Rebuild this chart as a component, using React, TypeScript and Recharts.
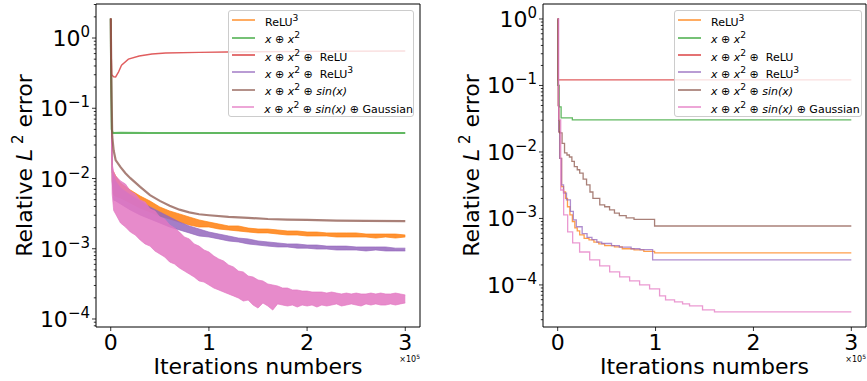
import React from "react";
import { ComposedChart, Line, Area, XAxis, YAxis, ReferenceArea, Legend, Label } from "recharts";

const FONT = "DejaVu Sans, Verdana, sans-serif";

const ORANGE = "#ff7f0e";
const GREEN = "#2ca02c";
const RED = "#d62728";
const PURPLE = "#9467bd";
const BROWN = "#8c564b";
const PINK = "#e377c2";

const xTicks = [0, 100000, 200000, 300000];
const xTickLabels = ["0", "1", "2", "3"];
const X_DOMAIN: [number, number] = [-15000, 315000];

const yMajorTicks = [1e-5, 1e-4, 1e-3, 1e-2, 1e-1, 1];
const yMajorLabels = ["−5", "−4", "−3", "−2", "−1", "0"];
const yMinorMult = [2, 3, 4, 5, 6, 7, 8, 9];

// ---- left panel: noisy curves, kept as the upper / lower edge of the noise band ----
// iterations in thousands
const bandK = [0, 0.5, 1.5, 3, 5, 10, 20, 30, 40, 50, 60, 70, 80, 90, 100, 110, 120, 130, 140, 150,
  160, 170, 180, 190, 200, 210, 220, 230, 240, 250, 260, 270, 280, 290, 300];

const orangeHi = [1.9, 0.35, 0.0132, 0.0124, 0.0109, 0.00863, 0.00686, 0.00563, 0.00478, 0.00393, 0.00345,
  0.00313, 0.00283, 0.00257, 0.0024, 0.00225, 0.00211, 0.00211, 0.00197, 0.00191, 0.00191, 0.00185, 0.00179,
  0.00179, 0.00173, 0.00173, 0.00168, 0.00168, 0.00168, 0.00168, 0.00162, 0.00162, 0.00162, 0.00162, 0.00157];
const orangeLo = [1.9, 0.25, 0.0095, 0.0058, 0.0056, 0.00528, 0.00448, 0.0038, 0.00334, 0.00292, 0.00265,
  0.0024, 0.00218, 0.00204, 0.00204, 0.00191, 0.00185, 0.00179, 0.00173, 0.00168, 0.00168, 0.00162, 0.00157,
  0.00157, 0.00152, 0.00152, 0.00152, 0.00147, 0.00147, 0.00147, 0.00147, 0.00142, 0.00147, 0.00142, 0.00147];

const purpleHi = [1.9, 0.35, 0.012, 0.0112, 0.0092, 0.00733, 0.00582, 0.00478, 0.00393, 0.00334, 0.00283,
  0.0024, 0.00211, 0.00191, 0.00173, 0.00162, 0.00152, 0.00142, 0.00138, 0.00129, 0.00125, 0.00121, 0.00117,
  0.00117, 0.00113, 0.00113, 0.00109, 0.00109, 0.00109, 0.00106, 0.00106, 0.00106, 0.00106, 0.00102, 0.00102];
const purpleLo = [1.9, 0.25, 0.0089, 0.0049, 0.0048, 0.00434, 0.00356, 0.00302, 0.00265, 0.00233, 0.00204,
  0.00185, 0.00168, 0.00152, 0.00147, 0.00138, 0.00129, 0.00125, 0.00117, 0.00113, 0.00109, 0.00106, 0.00106,
  0.00102, 0.00102, 0.00099, 0.00099, 0.00096, 0.00096, 0.00096, 0.00093, 0.00096, 0.00093, 0.00093, 0.00093];

const pinkK = [0, 0.3, 0.8, 1.5, 3,
  5, 10, 15, 20, 25, 30, 35, 40, 45, 50,
  55, 60, 65, 70, 75, 80, 85, 90, 95, 100,
  105, 110, 115, 120, 125, 130, 135, 140, 145, 150,
  155, 160, 165, 170, 175, 180, 185, 190, 195, 200,
  205, 210, 215, 220, 225, 230, 235, 240, 245, 250,
  255, 260, 265, 270, 275, 280, 285, 290, 295, 300];
const pinkHi = [1.9, 0.6, 0.06, 0.016, 0.0125,
  0.01085, 0.00921, 0.00835, 0.00664, 0.00602, 0.00494, 0.00463, 0.00368, 0.00345, 0.00283,
  0.00265, 0.00218, 0.00197, 0.00173, 0.00147, 0.00138, 0.00117, 0.00109, 0.00096, 0.0009,
  0.000788, 0.000715, 0.000669, 0.000587, 0.00055, 0.000482, 0.000467, 0.000409, 0.000396, 0.000359,
  0.000348, 0.000315, 0.000305, 0.000295, 0.000276, 0.000276, 0.000259, 0.000259, 0.00025, 0.00025,
  0.000242, 0.000242, 0.000242, 0.000234, 0.000242, 0.000234, 0.000227, 0.000234, 0.000227, 0.000234,
  0.000227, 0.000227, 0.000234, 0.000227, 0.000234, 0.000227, 0.000227, 0.000234, 0.000227, 0.00022];
const pinkLo = [1.9, 0.4, 0.04, 0.006, 0.0035,
  0.003125, 0.002325, 0.00204, 0.00173, 0.001569, 0.001332, 0.00117, 0.00109, 0.000929, 0.000842,
  0.000763, 0.000648, 0.000606, 0.000532, 0.000482, 0.000437, 0.000396, 0.000348, 0.000336, 0.000305,
  0.000276, 0.000259, 0.000242, 0.000227, 0.000213, 0.000199, 0.00018, 0.000186, 0.000158, 0.000143,
  0.000169, 0.000153, 0.000134, 0.000164, 0.000158, 0.000153, 0.000158, 0.000148, 0.000158, 0.000153,
  0.000158, 0.000148, 0.000158, 0.000153, 0.000158, 0.000164, 0.000153, 0.000158, 0.000164, 0.000158,
  0.000153, 0.000164, 0.000158, 0.000164, 0.000158, 0.000158, 0.000164, 0.000158, 0.000164, 0.000169];

const brownK = [0, 0.6, 1.5, 3, 5, 10, 15, 20, 30, 40, 50, 60, 70, 80, 90, 100, 120, 140, 160, 180, 200, 230, 260, 300];
const leftBrown = [1.9, 0.3, 0.04, 0.025, 0.0183, 0.0145, 0.0119, 0.0101, 0.0076, 0.0058, 0.0048, 0.0041, 0.0036,
  0.0033, 0.0031, 0.003, 0.00285, 0.00275, 0.00265, 0.0026, 0.00257, 0.00252, 0.0025, 0.00248];

const greenK = [0, 0.4, 1, 2, 10, 40, 80, 120, 160, 200, 240, 280, 300];
const leftGreen = [1.9, 0.3, 0.05, 0.0445, 0.0448, 0.0443, 0.0446, 0.0444, 0.0446, 0.0443, 0.0445, 0.0444, 0.0445];

const redK = [0, 0.5, 1, 3, 5, 8, 11, 18, 29, 42, 56, 90, 118, 200, 300];
const leftRed = [1.9, 0.6, 0.3, 0.28, 0.279, 0.33, 0.41, 0.5, 0.554, 0.592, 0.611, 0.625, 0.632, 0.645, 0.655];

// ---- right panel: best-so-far step curves ----
const redRK = [0, 0.5, 300];
const rightRed = [1.0, 0.121, 0.121];

const greenRK = [0, 0.5, 1.5, 3.5, 15, 300];
const rightGreen = [1.0, 0.1, 0.0475, 0.0325, 0.0303, 0.0303];

const brownRK = [0, 0.4, 1, 2, 4.5, 7, 9.5, 12, 14.5, 17, 20, 22.5, 26, 29.5, 33, 36, 43, 48, 53, 58, 63, 70, 78, 99, 300];
const rightBrown = [1.0, 0.1, 0.03, 0.0193, 0.0135, 0.0097, 0.009, 0.0084, 0.0072, 0.006, 0.0054, 0.0048, 0.0039,
  0.0032, 0.0025, 0.002, 0.0016, 0.0015, 0.00135, 0.0012, 0.0011, 0.00102, 0.00097, 0.00077, 0.00077];

const orangeRK = [0, 0.5, 1, 2, 4, 6, 8, 10, 12.5, 15, 17.5, 20, 22.5, 27, 32, 37, 42, 48, 58, 66, 78, 88, 99, 300];
const rightOrange = [1.0, 0.05, 0.02, 0.008, 0.003, 0.0025, 0.002, 0.0015, 0.00113, 0.0009, 0.00072, 0.00065,
  0.000565, 0.0005, 0.000475, 0.00044, 0.000414, 0.00039, 0.000373, 0.00035, 0.000336, 0.00032, 0.000303, 0.000303];

const purpleRK = [0, 0.5, 1, 2, 4, 6, 9, 13, 16, 19, 25, 30, 35, 40, 45, 55, 63, 75, 84, 97, 300];
const rightPurple = [1.0, 0.05, 0.02, 0.008, 0.0032, 0.0024, 0.0019, 0.00128, 0.00095, 0.00075, 0.00059, 0.00052,
  0.00048, 0.00044, 0.00042, 0.00039, 0.00037, 0.00035, 0.00034, 0.000238, 0.000238];

const pinkRK = [0, 1, 3.1, 6.1, 10.2, 15.3, 22.4, 32.7, 42.9, 53.1, 63.3, 73.5, 83.7, 93.9, 104.1, 110.2, 119.4,
  127.6, 134.7, 148, 160.2, 300];
const rightPink = [1.0, 0.0303, 0.00268, 0.00113, 0.000627, 0.000428, 0.000313, 0.000238, 0.000193, 0.000157,
  0.000132, 0.000115, 0.0001, 0.0000871, 0.0000684, 0.0000595, 0.0000555, 0.0000518, 0.0000483, 0.0000421,
  0.0000393, 0.0000393];

type Pt = { x: number; y?: number; band?: [number, number] };
type Series = { color: string; data: Pt[]; band?: boolean; width?: number };

const line = (ks: number[], vs: number[]): Pt[] => ks.map((k, i) => ({ x: k * 1000, y: vs[i] }));
const band = (ks: number[], lo: number[], hi: number[]): Pt[] =>
  ks.map((k, i) => ({ x: k * 1000, band: [lo[i], hi[i]] }));

const seriesColors = [ORANGE, GREEN, RED, PURPLE, BROWN, PINK];

const leftSeries: Series[] = [
  { color: ORANGE, data: band(bandK, orangeLo, orangeHi), band: true },
  { color: GREEN, data: line(greenK, leftGreen), width: 2 },
  { color: RED, data: line(redK, leftRed), width: 1.4 },
  { color: PURPLE, data: band(bandK, purpleLo, purpleHi), band: true },
  { color: BROWN, data: line(brownK, leftBrown), width: 2.2 },
  { color: PINK, data: band(pinkK, pinkLo, pinkHi), band: true },
];
const rightSeries: Series[] = [
  { color: ORANGE, data: line(orangeRK, rightOrange) },
  { color: GREEN, data: line(greenRK, rightGreen) },
  { color: RED, data: line(redRK, rightRed) },
  { color: PURPLE, data: line(purpleRK, rightPurple) },
  { color: BROWN, data: line(brownRK, rightBrown) },
  { color: PINK, data: line(pinkRK, rightPink) },
];

const X = <i>x</i>;
const legendLabels: React.ReactNode[] = [
  <>ReLU<sup>3</sup></>,
  <>{X} ⊕ {X}<sup>2</sup></>,
  <>{X} ⊕ {X}<sup>2</sup> ⊕  ReLU</>,
  <>{X} ⊕ {X}<sup>2</sup> ⊕  ReLU<sup>3</sup></>,
  <>{X} ⊕ {X}<sup>2</sup> ⊕ <i>sin(x)</i></>,
  <>{X} ⊕ {X}<sup>2</sup> ⊕ <i>sin(x)</i> ⊕ Gaussian</>,
];

function buildYTicks([lo, hi]: [number, number]) {
  const out: number[] = [];
  yMajorTicks.forEach((d) => {
    if (d >= lo && d <= hi) out.push(d);
    yMinorMult.forEach((m) => {
      const v = m * d;
      if (v >= lo && v <= hi) out.push(v);
    });
  });
  return out.sort((a, b) => a - b);
}

function YTick(props: any) {
  const { x, y, payload } = props;
  const idx = yMajorTicks.findIndex((t) => Math.abs(t - payload.value) / t < 1e-6);
  const major = idx >= 0;
  return (
    <g>
      <line x1={x - (major ? 4 : 2.2)} x2={x} y1={y} y2={y} stroke="#000" strokeWidth={0.8} />
      {major && (
        <text x={x - 6} y={y + 8} textAnchor="end" fontSize={22} fontFamily={FONT} fill="#000">
          10
          <tspan dy={-9} fontSize={15}>{yMajorLabels[idx]}</tspan>
        </text>
      )}
    </g>
  );
}

function XTick(props: any) {
  const { x, y, payload } = props;
  const i = xTicks.indexOf(payload.value);
  return (
    <g>
      <line x1={x} x2={x} y1={y} y2={y + 4} stroke="#000" strokeWidth={0.8} />
      <text x={x} y={y + 23} textAnchor="middle" fontSize={22} fontFamily={FONT} fill="#000">
        {xTickLabels[i]}
      </text>
    </g>
  );
}

function XTitle(props: any) {
  const vb = props.viewBox;
  return (
    <g>
      <text x={vb.x + vb.width / 2} y={vb.y + 47} textAnchor="middle" fontSize={22} fontFamily={FONT} fill="#000">
        Iterations numbers
      </text>
      <text x={vb.x + vb.width} y={vb.y + 35} textAnchor="end" fontSize={8} fontFamily={FONT} fill="#000">
        ×10
        <tspan dy={-3} fontSize={6}>5</tspan>
      </text>
    </g>
  );
}

function YTitle(props: any) {
  const vb = props.viewBox;
  const cx = vb.x + vb.width - 64;
  const cy = vb.y + vb.height / 2;
  return (
    <text x={cx} y={cy} transform={`rotate(-90, ${cx}, ${cy})`} textAnchor="middle" fontSize={22} fontFamily={FONT} fill="#000">
      Relative <tspan fontStyle="italic">L</tspan>
      <tspan dy={-9} fontSize={15}> 2</tspan>
      <tspan dy={9}> error</tspan>
    </text>
  );
}

function LegendBox({ width }: { width: number }) {
  return (
    <div
      style={{
        boxSizing: "border-box",
        width,
        height: 107,
        border: "1px solid #cccccc",
        borderRadius: 3,
        background: "rgba(255,255,255,0.8)",
        fontFamily: FONT,
        fontSize: 11,
        color: "#000",
        paddingTop: 0.5,
      }}
    >
      {seriesColors.map((c, i) => (
        <div key={i} style={{ display: "flex", alignItems: "center", height: 17.4 }}>
          <span
            style={{
              display: "inline-block",
              width: 23,
              height: 2,
              background: c,
              opacity: 0.65,
              marginLeft: 3,
              marginRight: 10,
            }}
          />
          <span style={{ whiteSpace: "pre", lineHeight: 1 }}>{legendLabels[i]}</span>
        </div>
      ))}
    </div>
  );
}

type PanelProps = {
  left: number;
  width: number;
  yAxisWidth: number;
  marginRight: number;
  yDomain: [number, number];
  series: Series[];
  lineType: "linear" | "stepAfter";
  strokeWidth: number;
  legendLeft: number;
  legendWidth: number;
};

function Panel(p: PanelProps) {
  const yTicks = buildYTicks(p.yDomain);
  return (
    <div style={{ position: "absolute", left: p.left, top: 0 }}>
      <ComposedChart width={p.width} height={381} margin={{ top: 4, right: p.marginRight, bottom: 0, left: 0 }}>
        <XAxis
          type="number"
          dataKey="x"
          domain={X_DOMAIN}
          ticks={xTicks}
          allowDataOverflow
          axisLine={false}
          tickLine={false}
          tickSize={0}
          tickMargin={0}
          interval={0}
          tick={<XTick />}
          height={54}
        >
          <Label content={XTitle} />
        </XAxis>
        <YAxis
          type="number"
          scale="log"
          domain={p.yDomain}
          ticks={yTicks}
          allowDataOverflow
          axisLine={false}
          tickLine={false}
          tickSize={0}
          tickMargin={0}
          interval={0}
          tick={<YTick />}
          width={p.yAxisWidth}
        >
          <Label content={YTitle} />
        </YAxis>
        {p.series.map((s, i) =>
          s.band ? (
            <Area
              key={i}
              data={s.data}
              dataKey="band"
              type="linear"
              stroke={s.color}
              strokeWidth={0.8}
              strokeOpacity={0.85}
              fill={s.color}
              fillOpacity={0.85}
              dot={false}
              activeDot={false}
              isAnimationActive={false}
            />
          ) : (
            <Line
              key={i}
              data={s.data}
              dataKey="y"
              type={p.lineType}
              stroke={s.color}
              strokeWidth={s.width ?? p.strokeWidth}
              strokeOpacity={0.75}
              dot={false}
              activeDot={false}
              isAnimationActive={false}
            />
          )
        )}
        <ReferenceArea
          x1={X_DOMAIN[0]}
          x2={X_DOMAIN[1]}
          y1={p.yDomain[0]}
          y2={p.yDomain[1]}
          fill="none"
          fillOpacity={0}
          stroke="#000"
          strokeWidth={1}
        />
        <Legend
          layout="vertical"
          align="center"
          verticalAlign="middle"
          content={() => <LegendBox width={p.legendWidth} />}
          wrapperStyle={{ left: p.legendLeft, top: 10, width: p.legendWidth, height: 107 }}
        />
      </ComposedChart>
    </div>
  );
}

export default function App() {
  return (
    <div style={{ position: "absolute", left: 0, top: 0, width: 867, height: 381, background: "#fff", overflow: "hidden" }}>
      <Panel
        left={0}
        width={440}
        yAxisWidth={96}
        marginRight={20}
        yDomain={[7.69e-5, 3.05]}
        series={leftSeries}
        lineType="linear"
        strokeWidth={1.5}
        legendLeft={228}
        legendWidth={186}
      />
      <Panel
        left={440}
        width={427}
        yAxisWidth={103}
        marginRight={1}
        yDomain={[2.33e-5, 1.68]}
        series={rightSeries}
        lineType="stepAfter"
        strokeWidth={1.3}
        legendLeft={234}
        legendWidth={188}
      />
    </div>
  );
}
